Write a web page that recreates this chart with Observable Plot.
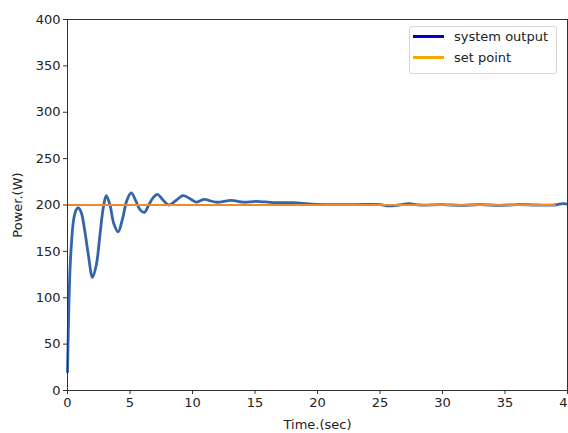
<!DOCTYPE html>
<html>
<head>
<meta charset="utf-8">
<script src="https://cdn.jsdelivr.net/npm/d3@7"></script>
<script src="https://cdn.jsdelivr.net/npm/@observablehq/plot@0.6"></script>
<style>
  html, body { margin: 0; padding: 0; background: #fff; }
  #wrap { position: relative; width: 568px; height: 433px; font-family: "DejaVu Sans", sans-serif; }
  #legend { position: absolute; left: 409px; top: 26px; width: 146px; height: 46px; border: 1px solid #d6d6d6; border-radius: 3px; background: rgba(255,255,255,0.8); font-size: 13px; color: #222; }
  .item { position: absolute; left: 3px; display: flex; align-items: center; }
  .sw { width: 31px; height: 2.5px; margin-right: 10px; }
</style>
</head>
<body>
<div id="wrap"></div>
<script>
// Time (sec) of system output samples
const timeSec = [0, 0.1, 0.2, 0.35, 0.5, 0.7, 0.88, 1.1, 1.35, 1.65, 2.0, 2.3, 2.6, 2.85, 3.1, 3.4, 3.7, 4.05, 4.4, 4.75, 5.1, 5.45, 5.8, 6.15, 6.5, 6.85, 7.2, 7.6, 8.1, 8.6, 9.25, 9.9, 10.3, 10.9, 11.9, 13.1, 14.1, 15.1, 16.5, 18, 19.6, 21, 23, 25, 25.7, 26.5, 27.3, 28.2, 30, 31.5, 33, 34.5, 36, 37.5, 39, 39.6, 40];
// Power (W) of system output
const outputW = [20, 85, 130, 165, 185, 195, 197, 192, 175, 148, 122, 135, 168, 196, 210, 200, 180, 171, 185, 205, 213, 205, 195, 192, 200, 208, 211.5, 206, 200, 204, 210, 206, 203, 206, 203, 205, 203, 204, 202.5, 202.5, 201, 200.5, 200.5, 200.5, 199, 200, 201.5, 200, 200.5, 199.5, 200.5, 199.5, 200.5, 200, 200, 201.5, 201];
// Set point
const setTime = [0, 39];
const setW = [200, 200];
const xTicks = [0, 5, 10, 15, 20, 25, 30, 35, 40];
const yTicks = [0, 50, 100, 150, 200, 250, 300, 350, 400];
const legendLabels = ["system output", "set point"];
const legendColors = ["#0000c8", "#f5a800"];

const outData = timeSec.map((t, i) => ({t, w: outputW[i]}));
const setData = setTime.map((t, i) => ({t, w: setW[i]}));

const chart = Plot.plot({
  width: 568,
  height: 433,
  marginLeft: 67,
  marginRight: 1,
  marginTop: 19,
  marginBottom: 43,
  style: {fontFamily: "DejaVu Sans, sans-serif", fontSize: "13px", color: "#222", background: "#fff"},
  x: {domain: [0, 40]},
  y: {domain: [0, 400]},
  marks: [
    Plot.lineY(outData, {x: "t", y: "w", stroke: "#3465ab", strokeWidth: 2.8, curve: "catmull-rom"}),
    Plot.lineY(setData, {x: "t", y: "w", stroke: "#f0892a", strokeWidth: 2}),
    Plot.frame({stroke: "#333", strokeWidth: 1}),
    Plot.axisX(xTicks, {tickSize: 4, tickPadding: 3, stroke: "#333", fill: "#222", fontSize: 13, label: "Time.(sec)", labelAnchor: "center", labelArrow: "none", labelOffset: 38}),
    Plot.axisY(yTicks, {tickSize: 4, tickPadding: 3, stroke: "#333", fill: "#222", fontSize: 13, label: "Power.(W)", labelAnchor: "center", labelArrow: "none", labelOffset: 55})
  ]
});
const wrap = document.getElementById("wrap");
wrap.appendChild(chart);

const lg = document.createElement("div");
lg.id = "legend";
legendLabels.forEach((lab, i) => {
  const it = document.createElement("div");
  it.className = "item";
  it.style.top = (2 + i * 21) + "px";
  const sw = document.createElement("div");
  sw.className = "sw";
  sw.style.background = legendColors[i];
  const tx = document.createElement("span");
  tx.textContent = lab;
  it.appendChild(sw); it.appendChild(tx);
  lg.appendChild(it);
});
wrap.appendChild(lg);
</script>
</body>
</html>
